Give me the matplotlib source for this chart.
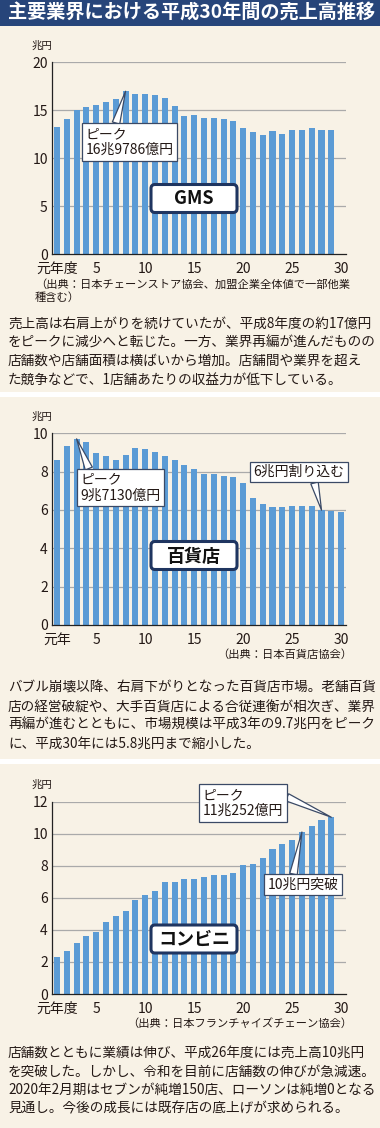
import matplotlib.pyplot as plt
from matplotlib.patches import FancyBboxPatch, Rectangle

plt.rcParams['font.family'] = ['Noto Sans CJK JP', 'DejaVu Sans']

# --- data (兆円, 平成元年度〜) ---
gms_years = list(range(1, 30))
gms_sales = [13.25, 14.09, 15.03, 15.34, 15.55, 15.86, 16.17, 16.98, 16.70, 16.70,
             16.60, 16.28, 15.44, 14.40, 14.50, 14.19, 14.19, 14.09, 13.88, 13.15,
             12.73, 12.42, 12.83, 12.52, 12.94, 12.94, 13.15, 12.94, 12.94]

dept_years = list(range(1, 31))
dept_sales = [8.61, 9.34, 9.71, 9.55, 8.97, 8.82, 8.61, 8.87, 9.23, 9.18,
              9.03, 8.82, 8.61, 8.35, 8.14, 7.88, 7.88, 7.77, 7.72, 7.41,
              6.63, 6.31, 6.16, 6.16, 6.21, 6.21, 6.21, 5.99, 5.94, 5.88]

cvs_years = list(range(1, 30))
cvs_sales = [2.31, 2.68, 3.18, 3.62, 3.87, 4.49, 4.87, 5.18, 5.87, 6.18,
             6.43, 6.99, 6.99, 7.18, 7.18, 7.30, 7.43, 7.43, 7.55, 8.05,
             8.11, 8.49, 9.05, 9.36, 9.61, 10.11, 10.48, 10.86, 11.03]

title = '主要業界における平成30年間の売上高推移'

W, H = 380, 1128
BG = '#f8f2e6'
BAR = '#5b9bd5'
NAVY = '#27457a'
TXT = '#231815'

fig = plt.figure(figsize=(W / 100, H / 100), dpi=100, facecolor=BG)


def add_chart(top, bottom, ymax, ystep, years, values, first_label):
    ax = fig.add_axes([52 / W, 1 - bottom / H, 294 / W, (bottom - top) / H])
    ax.set_facecolor('none')
    ax.bar(years, values, width=0.62, color=BAR, zorder=2)
    ax.set_xlim(0.49, 30.5)
    ax.set_ylim(0, ymax)
    yt = list(range(0, ymax + 1, ystep))
    ax.set_yticks(yt)
    ax.set_yticklabels([str(v) for v in yt])
    ax.set_xticks([1, 5, 10, 15, 20, 25, 30])
    ax.set_xticklabels([first_label, '5', '10', '15', '20', '25', '30'])
    for v in yt[1:]:
        ax.axhline(v, color='#aaaaaa', lw=0.9, zorder=1)
    for s in ['top', 'right']:
        ax.spines[s].set_visible(False)
    for s in ['left', 'bottom']:
        ax.spines[s].set_color('#222222')
        ax.spines[s].set_linewidth(0.9)
    ax.tick_params(length=0, labelsize=10, colors=TXT, pad=3)
    ax.tick_params(axis='x', pad=5.5)
    ax.text(-0.07, 1.06, '兆円', transform=ax.transAxes, fontsize=7.5,
            color=TXT, ha='left', va='bottom')
    return ax


def callout(ax, text, year, value, tx, ty, ha='left', relpos=(0.5, 0.5)):
    ax.annotate(text, xy=(year, value), xytext=(tx, ty), textcoords='axes fraction',
                ha=ha, va='center', fontsize=10, color=TXT, linespacing=1.2,
                bbox=dict(boxstyle='square,pad=0.25', fc='white', ec='#3b4a66', lw=0.9),
                arrowprops=dict(arrowstyle='wedge,tail_width=0.55,shrink_factor=0.5',
                                fc='white', ec='#3b4a66', lw=0.9, relpos=relpos,
                                shrinkA=0, shrinkB=0),
                zorder=5)


ax1 = add_chart(62.3, 254, 20, 5, gms_years, gms_sales, '元年度')
callout(ax1, 'ピーク\n16兆9786億円', 8, gms_sales[7], 0.115, 0.584, relpos=(0.33, 1))

ax2 = add_chart(433.3, 625, 10, 2, dept_years, dept_sales, '元年')
callout(ax2, 'ピーク\n9兆7130億円', 3, dept_sales[2], 0.098, 0.717, relpos=(0.12, 1))
callout(ax2, '6兆円割り込む', 28, dept_sales[27], 0.84, 0.798, ha='center', relpos=(0.66, 0))

ax3 = add_chart(801.7, 994, 12, 2, cvs_years, cvs_sales, '元年度')
callout(ax3, 'ピーク\n11兆252億円', 29, cvs_sales[28], 0.513, 0.993, relpos=(1, 0.75))
callout(ax3, '10兆円突破', 26, cvs_sales[25], 0.855, 0.567, ha='center', relpos=(0.35, 1))

# --- overlay in pixel coordinates for decorations and text ---
ov = fig.add_axes([0, 0, 1, 1], zorder=10)
ov.set_xlim(0, W)
ov.set_ylim(H, 0)
ov.axis('off')
ov.patch.set_alpha(0)

ov.add_patch(Rectangle((0, 0), W, 25.5, color=NAVY, lw=0))
ov.text(8, 13, title, color='white', fontsize=13.8, fontweight='bold',
        ha='left', va='center')

for y0 in [392, 758.5]:
    ov.add_patch(Rectangle((0, y0), W, 5, color='white', lw=0))

# label boxes
for cy, lab in [(198.5, 'GMS'), (555.5, '百貨店'), (939, 'コンビニ')]:
    ov.add_patch(FancyBboxPatch((151, cy - 14), 86, 28,
                                boxstyle='round,pad=0,rounding_size=4',
                                fc='white', ec='#1f3560', lw=2.2))
    ov.text(194, cy + 0.5, lab, fontsize=13, fontweight='bold', color='#111111',
            ha='center', va='center')

# sources
ov.text(35, 284, '（出典：日本チェーンストア協会、加盟企業全体値で一部他業',
        fontsize=8.1, color=TXT, ha='left', va='center')
ov.text(35, 298, '種含む）', fontsize=8.1, color=TXT, ha='left', va='center')
ov.text(352, 655, '（出典：日本百貨店協会）', fontsize=8.1, color=TXT, ha='right', va='center')
ov.text(352, 1024, '（出典：日本フランチャイズチェーン協会）', fontsize=8.1, color=TXT,
        ha='right', va='center')

body1 = ['売上高は右肩上がりを続けていたが、平成8年度の約17億円',
         'をピークに減少へと転じた。一方、業界再編が進んだものの',
         '店舗数や店舗面積は横ばいから増加。店舗間や業界を超え',
         'た競争などで、1店舗あたりの収益力が低下している。']
body2 = ['バブル崩壊以降、右肩下がりとなった百貨店市場。老舗百貨',
         '店の経営破綻や、大手百貨店による合従連衡が相次ぎ、業界',
         '再編が進むとともに、市場規模は平成3年の9.7兆円をピーク',
         'に、平成30年には5.8兆円まで縮小した。']
body3 = ['店舗数とともに業績は伸び、平成26年度には売上高10兆円',
         'を突破した。しかし、令和を目前に店舗数の伸びが急減速。',
         '2020年2月期はセブンが純増150店、ローソンは純増0となる',
         '見通し。今後の成長には既存店の底上げが求められる。']
for y0, lines in [(324, body1), (688, body2), (1053, body3)]:
    for i, line in enumerate(lines):
        ov.text(8, y0 + i * 18.5, line, fontsize=9.8, color=TXT,
                ha='left', va='center')

fig.savefig('out.png', dpi=100, facecolor=BG)
